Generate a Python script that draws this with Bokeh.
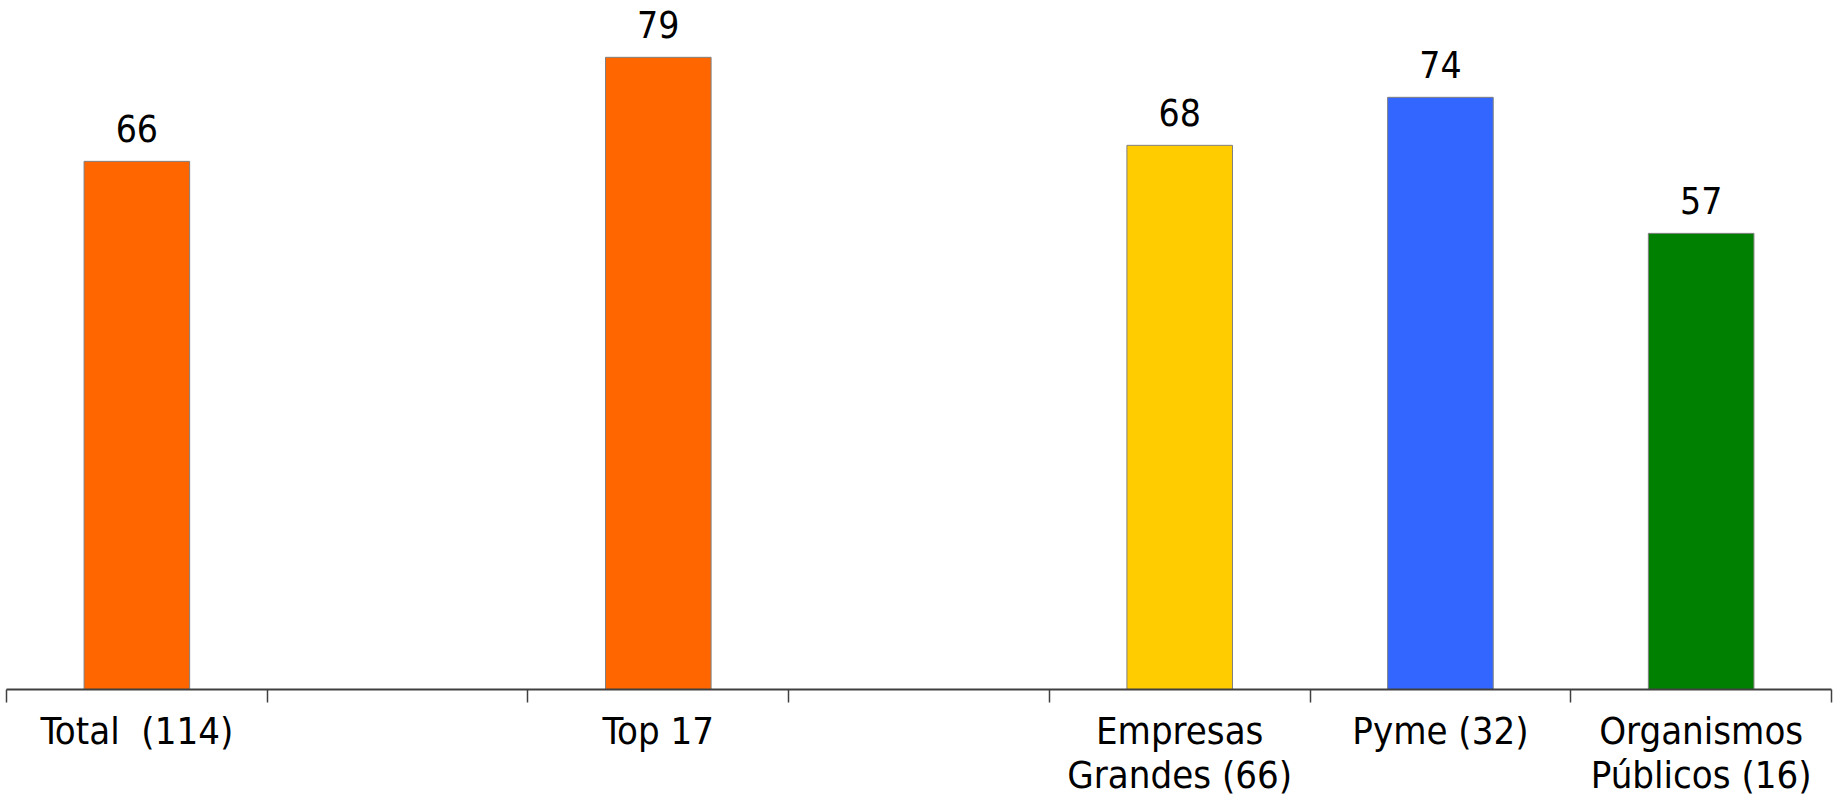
from bokeh.plotting import figure
from bokeh.models import ColumnDataSource, LinearAxis, FixedTicker, Range1d
from bokeh.core.properties import value
from bokeh.embed import file_html
from bokeh.resources import INLINE

# Category slots along the x axis (empty strings are spacer slots)
categories = ["Total \u00a0(114)", "", "Top 17", "", "Empresas\nGrandes (66)", "Pyme (32)", "Organismos\nPúblicos (16)"]
values = [66, None, 79, None, 68, 74, 57]
colors = ["#FF6600", None, "#FF6600", None, "#FFCC00", "#3366FF", "#008000"]

FONT = "DejaVu Sans Condensed"

slot = [i for i, v in enumerate(values) if v is not None]
src = ColumnDataSource(dict(
    x=slot,
    top=[values[i] for i in slot],
    color=[colors[i] for i in slot],
    label=[str(values[i]) for i in slot],
))

p = figure(width=1843, height=801, output_backend="svg", toolbar_location=None,
           x_axis_type=None, y_axis_type=None,
           x_range=Range1d(-0.5, len(categories) - 0.5), y_range=Range1d(0, 86.1),
           min_border_left=6, min_border_right=12, min_border_top=0, min_border_bottom=112)
p.outline_line_color = None
p.xgrid.visible = False
p.ygrid.visible = False

p.vbar(x="x", top="top", bottom=0, width=0.405, fill_color="color",
       line_color="#808080", line_width=1, source=src)

p.text(x="x", y="top", text="label", source=src, text_align="center",
       text_baseline="alphabetic", y_offset=-33, text_font=value(FONT),
       text_font_size="37px", text_color="black")

# Labels centred under each slot, tick marks on the slot boundaries
labeled = [i for i, c in enumerate(categories) if c]
axis = LinearAxis(ticker=FixedTicker(ticks=labeled,
                                     minor_ticks=[i - 0.5 for i in range(len(categories) + 1)]))
axis.major_label_overrides = {i: categories[i] for i in labeled}
axis.major_tick_out = 13
axis.major_tick_in = 0
axis.major_tick_line_color = None
axis.minor_tick_out = 13
axis.minor_tick_in = 0
axis.minor_tick_line_color = "#404040"
axis.minor_tick_line_width = 1.5
axis.axis_line_color = "#404040"
axis.axis_line_width = 2
axis.major_label_standoff = 6
axis.major_label_text_font = FONT
axis.major_label_text_font_size = "38px"
axis.major_label_text_line_height = 1.0
axis.major_label_text_color = "black"
axis.major_label_text_align = "center"
p.add_layout(axis, "below")

open("out.html", "w").write(file_html(p, INLINE))
